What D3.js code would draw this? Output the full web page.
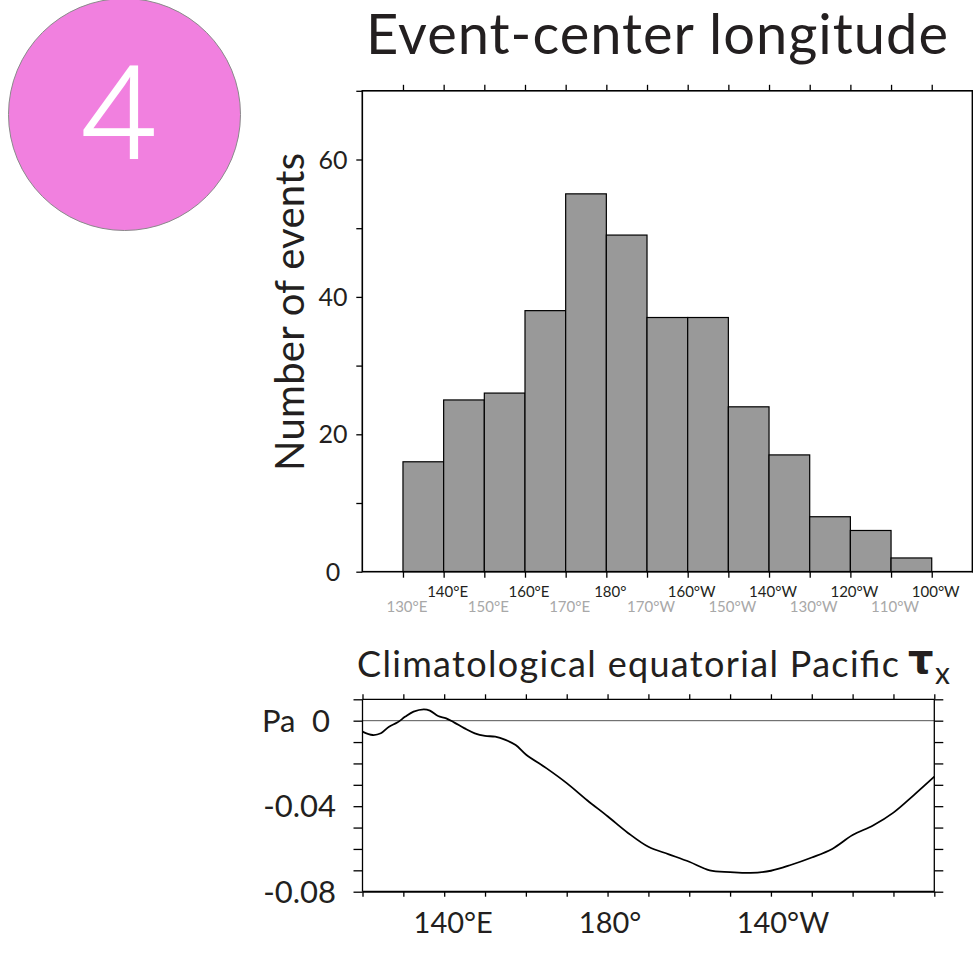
<!DOCTYPE html>
<html>
<head>
<meta charset="utf-8">
<script src="https://cdn.jsdelivr.net/npm/d3@7"></script>
<style>
  body { margin: 0; background: #fff; }
  text { font-family: Lato, "Open Sans", "DejaVu Sans", sans-serif; fill: #231f20; }
</style>
</head>
<body>
<svg id="chart" width="973" height="967"></svg>
<script>
// histogram: event-center longitude (bins of 10 degrees, start lon in degrees east)
const binStart = [130, 140, 150, 160, 170, 180, 190, 200, 210, 220, 230, 240, 250];
const binCount = [16, 25, 26, 38, 55, 49, 37, 37, 24, 17, 8, 6, 2];

const histTicks = [130, 140, 150, 160, 170, 180, 190, 200, 210, 220, 230, 240, 250, 260];
const histMajorLon = [140, 160, 180, 200, 220, 240, 260];
const histMajorLab = ["140°E", "160°E", "180°", "160°W", "140°W", "120°W", "100°W"];
const histMinorLon = [130, 150, 170, 190, 210, 230, 250];
const histMinorLab = ["130°E", "150°E", "170°E", "170°W", "150°W", "130°W", "110°W"];
const countTicks = [0, 10, 20, 30, 40, 50, 60, 70];
const countLabels = [0, 20, 40, 60];

// climatological equatorial Pacific tau_x (Pa)
const tauLon = [120, 122.5, 124.5, 126.5, 128.5, 130.5, 132.5, 135, 136.5, 138.5, 140.5, 142.5, 145, 147.5,
  150, 152.5, 155, 157.5, 160, 165, 170, 175, 180, 185, 190, 195, 200, 205, 210, 215, 220, 225, 230,
  235, 240, 245, 250, 255, 260];
const tauVal = [-0.0051, -0.0067, -0.0059, -0.0028, -0.0009, 0.0019, 0.0042, 0.0053, 0.0047, 0.0022, 0.0011,
  -0.0009, -0.0036, -0.0059, -0.0071, -0.0075, -0.0090, -0.0114, -0.0158, -0.0222, -0.0292, -0.0372,
  -0.0447, -0.0525, -0.0590, -0.0625, -0.0660, -0.0700, -0.0708, -0.0712, -0.0702, -0.0674, -0.0640,
  -0.0600, -0.0535, -0.0490, -0.0430, -0.0348, -0.0262];
const tauLonTicks = [120, 130, 140, 150, 160, 170, 180, 190, 200, 210, 220, 230, 240, 250, 260];
const tauLonLon = [140, 180, 220];
const tauLonLab = ["140°E", "180°", "140°W"];
const tauTicks = [-0.08, -0.07, -0.06, -0.05, -0.04, -0.03, -0.02, -0.01, 0, 0.01];
const tauLabVal = [0, -0.04, -0.08];
const tauLabTxt = ["0", "-0.04", "-0.08"];

const svg = d3.select("#chart");

// ---- badge ----
svg.append("circle")
  .attr("cx", 124.5).attr("cy", 114.5).attr("r", 116)
  .style("fill", "#f180df")
  .style("stroke", "#8a8a8a")
  .style("stroke-width", 1);

svg.append("text")
  .attr("x", 118).attr("y", 158)
  .attr("text-anchor", "middle")
  .style("font-family", "'Open Sans', 'Liberation Sans', sans-serif")
  .style("font-size", "128px")
  .style("font-weight", 300)
  .style("fill", "#fff")
  .style("stroke", "#fff")
  .style("stroke-width", 2)
  .text("4");

// ---- histogram ----
const hx = d3.scaleLinear().domain([120, 270]).range([362.3, 972.4]);
const hy = d3.scaleLinear().domain([0, 70]).range([571.7, 90.8]);

svg.append("text")
  .attr("x", 366).attr("y", 54)
  .attr("textLength", 582)
  .style("font-size", "56px")
  .text("Event-center longitude");

svg.append("text")
  .attr("transform", "translate(304,312) rotate(-90)")
  .attr("text-anchor", "middle")
  .attr("textLength", 318)
  .style("font-size", "40px")
  .text("Number of events");

svg.selectAll(".bar")
  .data(binStart)
  .enter().append("rect")
  .attr("class", "bar")
  .attr("x", d => hx(d))
  .attr("width", d => hx(d + 10) - hx(d))
  .attr("y", (d, i) => hy(binCount[i]))
  .attr("height", (d, i) => hy(0) - hy(binCount[i]))
  .style("fill", "#999")
  .style("stroke", "#000")
  .style("stroke-width", 1.2);

function tickAxis(g, axis) {
  g.call(axis);
  g.select(".domain").remove();
  g.selectAll("line").style("stroke", "#000").style("stroke-width", 1.3);
}

svg.append("g").attr("transform", "translate(0," + hy(70) + ")")
  .call(tickAxis, d3.axisTop(hx).tickValues(histTicks).tickSize(6).tickFormat(""));
svg.append("g").attr("transform", "translate(0," + hy(0) + ")")
  .call(tickAxis, d3.axisBottom(hx).tickValues(histTicks).tickSize(6).tickFormat(""));
svg.append("g").attr("transform", "translate(" + hx(120) + ",0)")
  .call(tickAxis, d3.axisLeft(hy).tickValues(countTicks).tickSize(6).tickFormat(""));
svg.append("g").attr("transform", "translate(" + hx(270) + ",0)")
  .call(tickAxis, d3.axisRight(hy).tickValues(countTicks).tickSize(6).tickFormat(""));

svg.append("rect")
  .attr("x", hx(120)).attr("y", hy(70))
  .attr("width", hx(270) - hx(120)).attr("height", hy(0) - hy(70))
  .style("fill", "none").style("stroke", "#000").style("stroke-width", 1.6);

svg.selectAll(".hmaj")
  .data(histMajorLon)
  .enter().append("text")
  .attr("class", "hmaj")
  .attr("x", d => hx(d) + 4).attr("y", 597)
  .attr("text-anchor", "middle")
  .style("font-size", "15px")
  .text((d, i) => histMajorLab[i]);

svg.selectAll(".hmin")
  .data(histMinorLon)
  .enter().append("text")
  .attr("class", "hmin")
  .attr("x", d => hx(d) + 4).attr("y", 612)
  .attr("text-anchor", "middle")
  .style("font-size", "15px")
  .style("fill", "#a8a8a8")
  .text((d, i) => histMinorLab[i]);

svg.selectAll(".hy")
  .data(countLabels)
  .enter().append("text")
  .attr("class", "hy")
  .attr("x", 333).attr("y", d => hy(d) + 9)
  .attr("text-anchor", "middle")
  .style("font-size", "25px")
  .text(d => d);

// ---- tau_x panel ----
const bx = d3.scaleLinear().domain([120, 260]).range([362.5, 934.3]);
const by = d3.scaleLinear().domain([-0.08, 0.01]).range([891.7, 699.3]);

const title2 = svg.append("text")
  .attr("x", 357).attr("y", 677)
  .style("font-size", "36px");
title2.append("tspan").attr("textLength", 542).text("Climatological equatorial Pacific");
title2.append("tspan").attr("x", 908).attr("y", 673)
  .style("font-size", "40px").style("font-weight", "bold")
  .style("font-family", "'DejaVu Sans', sans-serif").text("τ");
title2.append("tspan").attr("x", 935).attr("y", 684)
  .style("font-size", "30px").text("x");

svg.append("line")
  .attr("x1", bx(120)).attr("x2", bx(260))
  .attr("y1", by(0)).attr("y2", by(0))
  .style("stroke", "#555").style("stroke-width", 1);

const line = d3.line()
  .x(d => bx(d))
  .y((d, i) => by(tauVal[i]))
  .curve(d3.curveCatmullRom);

svg.append("path")
  .datum(tauLon)
  .attr("d", line)
  .style("fill", "none")
  .style("stroke", "#000")
  .style("stroke-width", 1.8);

svg.append("g").attr("transform", "translate(0," + by(0.01) + ")")
  .call(tickAxis, d3.axisTop(bx).tickValues(tauLonTicks).tickSize(5).tickFormat(""));
svg.append("g").attr("transform", "translate(0," + by(-0.08) + ")")
  .call(tickAxis, d3.axisBottom(bx).tickValues(tauLonTicks).tickSize(5).tickFormat(""));
svg.append("g").attr("transform", "translate(" + bx(120) + ",0)")
  .call(tickAxis, d3.axisLeft(by).tickValues(tauTicks).tickSize(9).tickFormat(""));
svg.append("g").attr("transform", "translate(" + bx(260) + ",0)")
  .call(tickAxis, d3.axisRight(by).tickValues(tauTicks).tickSize(9).tickFormat(""));

svg.append("line")
  .attr("x1", bx(120)).attr("x2", bx(260))
  .attr("y1", by(0.01)).attr("y2", by(0.01))
  .style("stroke", "#000").style("stroke-width", 1.3);
svg.append("line")
  .attr("x1", bx(120)).attr("x2", bx(260))
  .attr("y1", by(-0.08)).attr("y2", by(-0.08))
  .style("stroke", "#000").style("stroke-width", 2);
svg.append("line")
  .attr("x1", bx(120)).attr("x2", bx(120))
  .attr("y1", by(0.01)).attr("y2", by(-0.08))
  .style("stroke", "#000").style("stroke-width", 1.3);
svg.append("line")
  .attr("x1", bx(260)).attr("x2", bx(260))
  .attr("y1", by(0.01)).attr("y2", by(-0.08))
  .style("stroke", "#000").style("stroke-width", 1.3);

svg.selectAll(".bxl")
  .data(tauLonLon)
  .enter().append("text")
  .attr("class", "bxl")
  .attr("x", (d, i) => bx(d) + [9, 2.5, 12][i]).attr("y", 933)
  .attr("text-anchor", "middle")
  .style("font-size", "29px")
  .text((d, i) => tauLonLab[i]);

svg.selectAll(".byl")
  .data(tauLabVal)
  .enter().append("text")
  .attr("class", "byl")
  .attr("x", (d, i) => i === 0 ? 330 : 336).attr("y", d => by(d) + 11)
  .attr("text-anchor", "end")
  .style("font-size", "31px")
  .text((d, i) => tauLabTxt[i]);

svg.append("text")
  .attr("x", 262).attr("y", by(0) + 11)
  .style("font-size", "31px")
  .text("Pa");
</script>
</body>
</html>
